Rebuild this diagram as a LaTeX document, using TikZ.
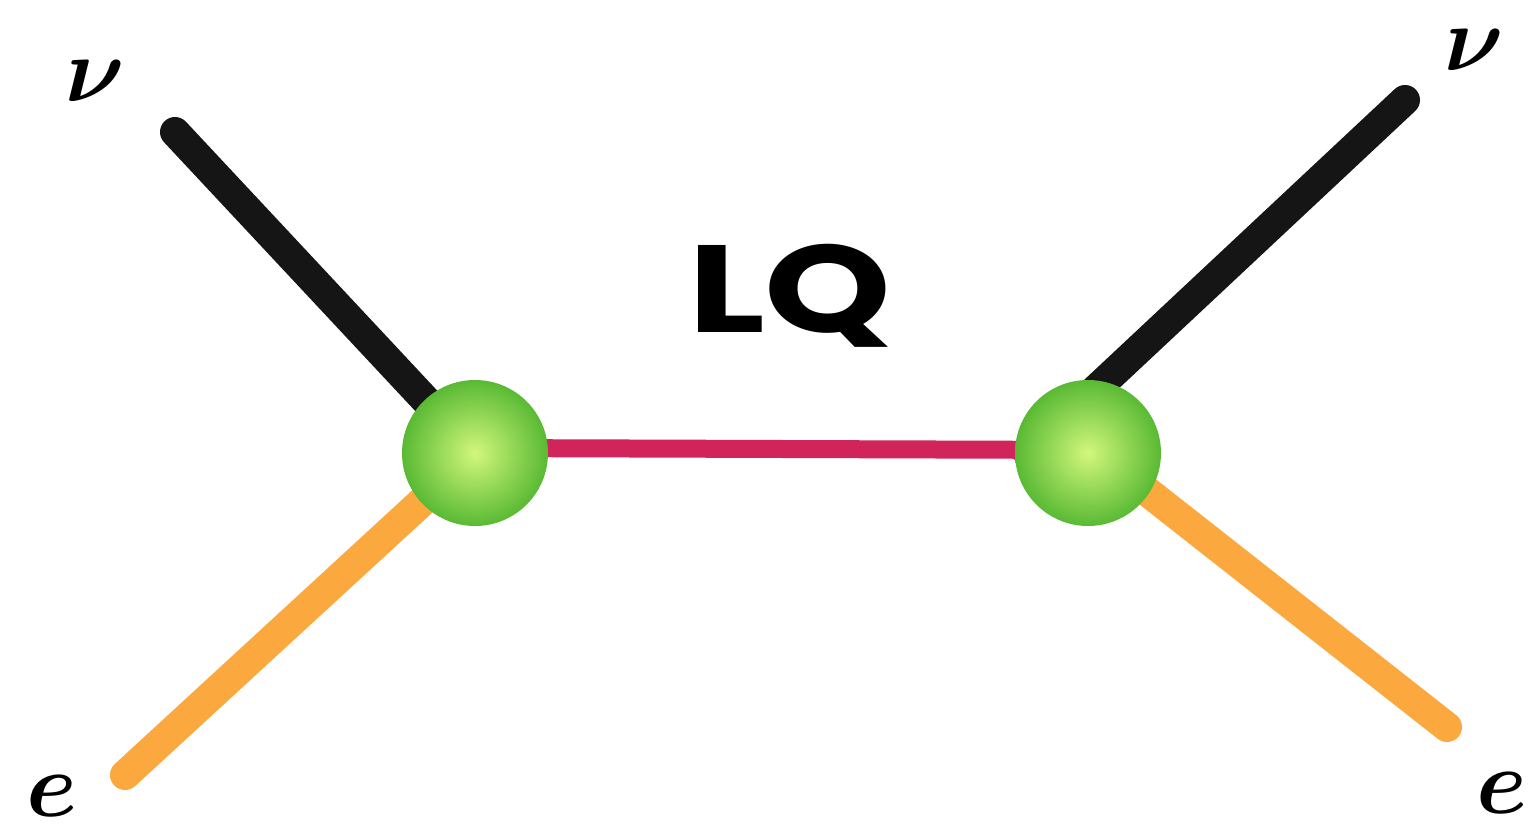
\documentclass[tikz,border=0pt]{standalone}
\usepackage{fontspec}
\newfontfamily\lqfont{Poppins}

\definecolor{nuline}{HTML}{151515}
\definecolor{eline}{HTML}{FBA93E}
\definecolor{lqline}{HTML}{D0245A}
\definecolor{ballin}{HTML}{D2F77C}
\definecolor{ballout}{HTML}{4BB22B}

\pgfdeclareradialshading{lqball}{\pgfpoint{0bp}{0bp}}{%
  color(0bp)=(ballin); color(28bp)=(ballout); color(50bp)=(ballout)}

\tikzset{
  vertex/.style={circle, minimum size=73pt, inner sep=0pt, shading=lqball},
  lepton/.style={line width=15pt, line cap=round},
  hand/.style={font=\boldmath\Huge, scale=1.85, inner sep=0pt},
}

\begin{document}
\begin{tikzpicture}
\useasboundingbox (0pt, 0pt) rectangle (766pt, -416.5pt);
% vertices
\coordinate (lv) at (237.5pt, -226.5pt);
\coordinate (rv) at (544pt, -226.5pt);
\coordinate (rvtop) at (514pt, -226.5pt);
% free ends of the lepton lines
\coordinate (nul) at (87.5pt, -66pt);
\coordinate (el) at (62.5pt, -387.5pt);
\coordinate (nur) at (702.5pt, -50pt);
\coordinate (er) at (723.5pt, -363.5pt);
\draw[lepton, color=nuline] (nul) -- (lv);
\draw[lepton, color=eline] (el) -- (lv);
\draw[lepton, color=nuline] (nur) -- (rvtop);
\draw[lepton, color=eline] (er) -- ([yshift=4pt]rv);
\draw[color=lqline, line width=9pt] ([yshift=2.5pt]lv) -- ([yshift=1.5pt]rv);
\node[vertex] (lball) at (lv) {};
\node[vertex] (rball) at (rv) {};
% labels
\node[hand] (nulab) at (47.5pt, -40.5pt) {$\nu$};
\node[hand] (nurlab) at (737pt, -25pt) {$\nu$};
\node[hand] (elab) at (26pt, -398pt) {$e$};
\node[hand] (erlab) at (751pt, -396.5pt) {$e$};
\node[font=\lqfont\bfseries\fontsize{62}{64}\selectfont, xscale=1.3] (lq) at (395pt, -148pt) {LQ};
\end{tikzpicture}
\end{document}
